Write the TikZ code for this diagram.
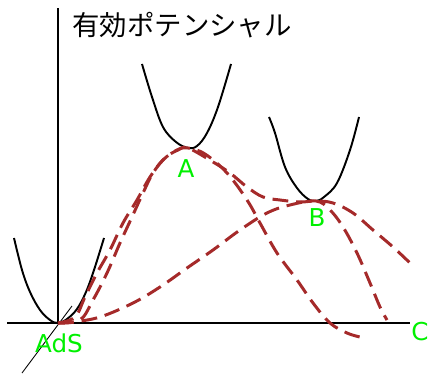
\documentclass[tikz,border=0pt]{standalone}
\usepackage{fontspec}
\setmainfont{DejaVu Sans}
\newfontfamily\jpfont{Noto Sans CJK JP}
\usepackage{tikz}
\usetikzlibrary{calc}
\definecolor{potred}{RGB}{165,42,42}
\definecolor{lblgreen}{RGB}{0,240,0}
\tikzset{
    myaxis/.style={line width=0.75pt,draw=black},
    mywell/.style={line width=1.1pt,draw=black,line join=round},
    mypath/.style={line width=1.7pt,draw=potred,dash pattern=on 9pt off 4.5pt},
    mylabel/.style={text=lblgreen,font=\fontsize{14}{16}\selectfont,inner sep=0pt}
}

\begin{document}
\begin{tikzpicture}[x=0.02cm,y=-0.02cm]
  \useasboundingbox (0,0) rectangle (428,374);
  % 標題
            \node[font=\jpfont\fontsize{15.6}{18}\selectfont,inner sep=0pt] (title) at (182,25) {有効ポテンシャル};

  %---------------- 座標軸 ----------------
            \coordinate (O) at (58,323);
            \coordinate (Ytop) at (58,8);
            \coordinate (Xleft) at (7,323);
            \coordinate (Xright) at (410,323);
            \coordinate (Dlow) at (22,373);
            \coordinate (Dhigh) at (72,306);
            \draw[myaxis] (O)--(Ytop);
            \draw[myaxis] (Xleft)--(Xright);
            \draw[black,line width=0.5pt] (Dlow)--(Dhigh);

  %---------------- 極小点 ----------------
            \coordinate (A) at (188,148);
            \coordinate (B) at (316,201);

  % 井戸（実線）
            \draw[mywell] plot[smooth,tension=0.6] coordinates
                {(14,238) (22,270) (30,292) (40,310) (50,320) (O) (67,319) (77,309) (86,292) (94,270) (104,238)};
            \draw[mywell] plot[smooth,tension=0.6] coordinates
                {(142,64) (152,97) (163,127) (176,142) (A) (197,146) (207,133) (218,107) (231,64)};
            \draw[mywell] plot[smooth,tension=0.6] coordinates
                {(269,117) (275,133) (285,167) (297,188) (308,199) (B) (324,197) (337,183) (350,150) (359,117)};

  %---------------- ポテンシャル（破線） ----------------
  % AdS -> A -> 下
            \draw[mypath] plot[smooth,tension=0.6] coordinates
                {(O) (75,317) (85,297) (97,273) (110,250) (123,223) (137,200) (150,177) (163,160) (177,150) (A)
                 (205,154) (227,173) (247,200) (260,223) (277,253) (297,280) (313,303) (330,323) (347,333) (360,337)};
  % AdS -> A -> B
            \draw[mypath] plot[smooth,tension=0.6] coordinates
                {(O) (80,320) (93,300) (107,273) (120,243) (132,217) (143,193) (153,173) (165,158) (178,150) (A)
                 (213,162) (230,173) (247,187) (263,197) (280,200) (300,202) (B)
                 (333,203) (353,213) (373,230) (393,247) (410,263)};
  % AdS -> B
            \draw[mypath] plot[smooth,tension=0.6] coordinates
                {(O) (73,322) (100,317) (133,303) (160,287) (187,268) (213,250) (240,230) (267,213) (290,205) (B)
                 (330,210) (343,227) (357,253) (370,283) (380,307) (387,320)};

  %---------------- ラベル ----------------
            \node[mylabel] (lblA) at (186,169) {A};
            \node[mylabel] (lblB) at (317,218) {B};
            \node[mylabel] (lblAdS) at (59,343) {AdS};
            \node[mylabel] (lblC) at (420,332) {C};

        \end{tikzpicture}
\end{document}
